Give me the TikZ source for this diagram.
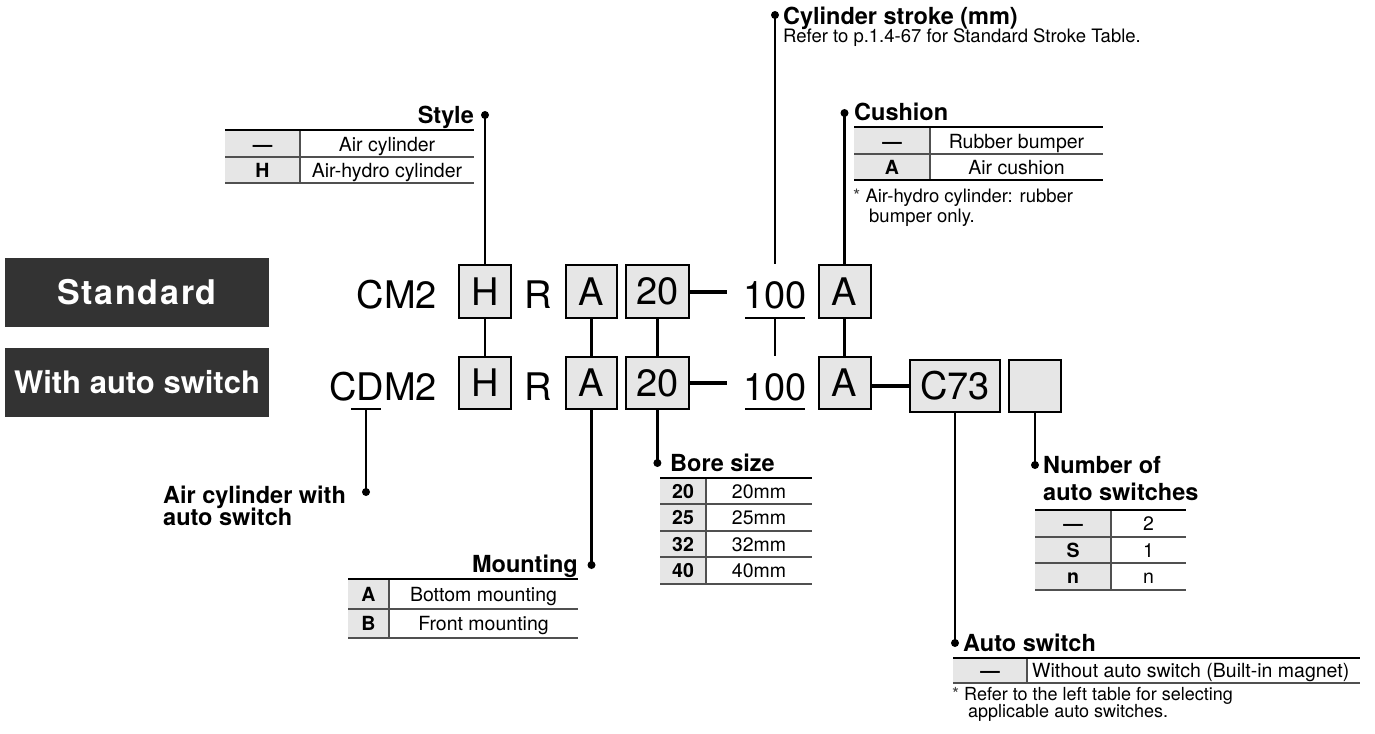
\documentclass[tikz,border=0pt]{standalone}
\usepackage{fontspec}
\setmainfont{TeX Gyre Heros}
\definecolor{boxgray}{HTML}{E6E6E6}
\definecolor{labeldark}{HTML}{333333}
\definecolor{rulegray}{HTML}{505050}
\newcommand{\fsz}[1]{\fontsize{#1}{#1}\selectfont}
\newcommand{\smallast}{{\color{black!75}*}}
\begin{document}
\begin{tikzpicture}[x=1pt,y=-1pt,
  codebox/.style={draw, line width=2pt, fill=boxgray, inner sep=0pt, font=\fsz{38}},
  codetext/.style={inner sep=0pt, font=\fsz{38}},
  leader/.style={line width=2.3pt},
  joinbar/.style={line width=4pt},
  leaddot/.style={fill=black},
  headtxt/.style={inner sep=0pt, font=\bfseries\fsz{23.5}},
  cell/.style={inner sep=0pt, anchor=base, font=\fsz{19.5}},
  cellb/.style={inner sep=0pt, anchor=base, font=\bfseries\fsz{19.5}},
  notetxt/.style={inner sep=0pt, anchor=base west, font=\fsz{18.5}},
  toprule/.style={line width=2.4pt},
  midrule/.style={line width=1.2pt, rulegray},
  botrule/.style={line width=1.6pt, rulegray},
  labelbox/.style={fill=labeldark, minimum width=264pt, minimum height=69pt, inner sep=0pt, text=white}
]
\useasboundingbox (0,0) rectangle (1375,733);

% ---------- dark labels ----------
\node[labelbox, font=\bfseries\fsz{34}\addfontfeatures{LetterSpace=5}] (std) at (137,292.5) {Standard};
\node[labelbox, font=\bfseries\fsz{31}] (withauto) at (137,382.5) {With auto switch};

% ---------- row 1 ----------
\node[codetext, anchor=base east] (cm2) at (437,308) {CM2};
\node[codebox, minimum width=52pt, minimum height=53pt] (h1) at (485,291.5) {H};
\node[codetext, anchor=base] (r1) at (538,308) {R};
\node[codebox, minimum width=51.5pt, minimum height=53pt] (a1) at (591.5,291.5) {A};
\node[codebox, minimum width=63pt, minimum height=53pt] (b1) at (657.4,291.5) {20};
\node[codetext, anchor=base] (s1) at (775,308) {100};
\node[codebox, minimum width=52pt, minimum height=53pt] (c1) at (844.5,291.5) {A};

% ---------- row 2 ----------
\node[codetext, anchor=base east] (cdm2) at (437,400) {CDM2};
\node[codebox, minimum width=52pt, minimum height=52pt] (h2) at (485,383) {H};
\node[codetext, anchor=base] (r2) at (538,400) {R};
\node[codebox, minimum width=51.5pt, minimum height=52pt] (a2) at (591.5,383) {A};
\node[codebox, minimum width=63pt, minimum height=52pt] (b2) at (657.4,383) {20};
\node[codetext, anchor=base] (s2) at (775,400) {100};
\node[codebox, minimum width=52pt, minimum height=52pt] (c2) at (844.5,383) {A};
\node[codebox, minimum width=90pt, minimum height=52pt] (sw) at (955,386) {C73};
\node[codebox, minimum width=52pt, minimum height=52pt] (nsw) at (1035,386) {};

% ---------- underlines and bars ----------
\coordinate (u1l) at (745,318); \coordinate (u1r) at (805,318); \coordinate (u1m) at (775,318);
\coordinate (u2l) at (745,409); \coordinate (u2r) at (805,409);
\coordinate (dl) at (351,409); \coordinate (dr) at (381,409); \coordinate (dm) at (366,409);
\draw[line width=2pt] (u1l) -- (u1r);
\draw[line width=2pt] (u2l) -- (u2r);
\draw[line width=2pt] (dl) -- (dr);
\coordinate (bar1end) at (727,291.5);
\coordinate (bar2end) at (727,383);
\draw[joinbar] (b1.east) -- (bar1end);
\draw[joinbar] (b2.east) -- (bar2end);
\draw[joinbar] (c2.east |- sw.west) -- (sw.west);

% ---------- leader dots ----------
\coordinate (styledot) at (485,115);
\coordinate (strokedot) at (775,15);
\coordinate (cushdot) at (844.5,113);
\coordinate (boredot) at (657.4,463);
\coordinate (mountdot) at (591.5,565);
\coordinate (acwdot) at (366,492);
\coordinate (numdot) at (1035,465);
\coordinate (swdot) at (955,643);
\foreach \p in {styledot,strokedot,cushdot,boredot,mountdot,acwdot,numdot,swdot}
  \fill[leaddot] (\p) circle (4pt);

% ---------- leaders ----------
\draw[leader] (styledot) -- (styledot |- h1.north);
\draw[leader] (strokedot) -- (strokedot |- c1.north);
\draw[leader] (cushdot) -- (cushdot |- c1.north);
\draw[leader] (h1.south) -- (h2.north);
\draw[leader] (a1.south) -- (a2.north);
\draw[leader] (b1.south) -- (b2.north);
\draw[leader] (c1.south) -- (c2.north);
\draw[leader] (u1m) -- (u1m |- h2.north);
\draw[leader] (a2.south) -- (mountdot);
\draw[leader] (b2.south) -- (boredot);
\draw[leader] (dm) -- (acwdot);
\draw[leader] (sw.south) -- (swdot);
\draw[leader] (nsw.south) -- (numdot);

% ---------- headings ----------
\node[headtxt, anchor=base east] (styleT) at (474,124) {Style};
\node[headtxt, anchor=base west] (strokeT) at (783,25) {Cylinder stroke (mm)};
\node[notetxt] (strokeN) at (783,43) {Refer to p.1.4-67 for Standard Stroke Table.};
\node[headtxt, anchor=base west] (cushT) at (854,121) {Cushion};
\node[headtxt, anchor=base west] (boreT) at (670,471) {Bore size};
\node[headtxt, anchor=base east] (mountT) at (578,572) {Mounting};
\node[headtxt, anchor=base west] (acwT1) at (163,503) {Air cylinder with};
\node[headtxt, anchor=base west] (acwT2) at (163,525) {auto switch};
\node[headtxt, anchor=base west] (numT1) at (1043,473) {Number of};
\node[headtxt, anchor=base west] (numT2) at (1043,500) {auto switches};
\node[headtxt, anchor=base west] (swT) at (963,651) {Auto switch};

% ---------- Style table ----------
\fill[boxgray] (225,130) rectangle (300,183);
\draw[midrule] (225,157) -- (474,157);
\draw[midrule] (300,130) -- (300,183);
\draw[botrule] (225,183) -- (474,183);
\draw[toprule] (225,130) -- (474,130);
\node[cellb] (st1a) at (262.5,151) {—};
\node[cell]  (st1b) at (387,151) {Air cylinder};
\node[cellb] (st2a) at (262.5,177) {H};
\node[cell]  (st2b) at (387,177) {Air-hydro cylinder};

% ---------- Cushion table ----------
\fill[boxgray] (854,127) rectangle (930,180);
\draw[midrule] (854,154) -- (1103,154);
\draw[midrule] (930,127) -- (930,180);
\draw[line width=1.4pt] (854,180) -- (1103,180);
\draw[toprule] (854,127) -- (1103,127);
\node[cellb] (cu1a) at (892,148) {—};
\node[cell]  (cu1b) at (1016.5,148) {Rubber bumper};
\node[cellb] (cu2a) at (892,174) {A};
\node[cell]  (cu2b) at (1016.5,174) {Air cushion};
\node[notetxt] (cuN1) at (853,202) {\smallast\ Air-hydro cylinder: rubber};
\node[notetxt] (cuN2) at (869,222) {bumper only.};

% ---------- Bore size table ----------
\fill[boxgray] (660,478) rectangle (706,584);
\draw[midrule] (660,504) -- (812,504);
\draw[midrule] (660,531) -- (812,531);
\draw[midrule] (660,557) -- (812,557);
\draw[midrule] (706,478) -- (706,584);
\draw[botrule] (660,584) -- (812,584);
\draw[toprule] (660,478) -- (812,478);
\node[cellb] (bo1a) at (683,498) {20};  \node[cell] (bo1b) at (759,498) {20mm};
\node[cellb] (bo2a) at (683,524.5) {25};\node[cell] (bo2b) at (759,524.5) {25mm};
\node[cellb] (bo3a) at (683,551) {32};  \node[cell] (bo3b) at (759,551) {32mm};
\node[cellb] (bo4a) at (683,577.5) {40};\node[cell] (bo4b) at (759,577.5) {40mm};

% ---------- Mounting table ----------
\fill[boxgray] (348,579) rectangle (389,638);
\draw[midrule] (348,609) -- (578,609);
\draw[midrule] (389,579) -- (389,638);
\draw[botrule] (348,638) -- (578,638);
\draw[toprule] (348,579) -- (578,579);
\node[cellb] (mo1a) at (368.5,601) {A};
\node[cell]  (mo1b) at (483.5,601) {Bottom mounting};
\node[cellb] (mo2a) at (368.5,630.5) {B};
\node[cell]  (mo2b) at (483.5,630.5) {Front mounting};

% ---------- Number of auto switches table ----------
\fill[boxgray] (1035,510) rectangle (1111,590);
\draw[midrule] (1035,537) -- (1186,537);
\draw[midrule] (1035,563) -- (1186,563);
\draw[midrule] (1111,510) -- (1111,590);
\draw[botrule] (1035,590) -- (1186,590);
\draw[toprule] (1035,510) -- (1186,510);
\node[cellb] (nu1a) at (1073,530.5) {—}; \node[cell] (nu1b) at (1148.5,530.5) {2};
\node[cellb] (nu2a) at (1073,557) {S};    \node[cell] (nu2b) at (1148.5,557) {1};
\node[cellb] (nu3a) at (1073,583.5) {n};  \node[cell] (nu3b) at (1148.5,583.5) {n};

% ---------- Auto switch table ----------
\fill[boxgray] (953,658) rectangle (1027,683);
\draw[midrule] (1027,658) -- (1027,683);
\draw[botrule] (953,683) -- (1360,683);
\draw[toprule] (953,658) -- (1360,658);
\node[cellb] (as1a) at (990,677.5) {—};
\node[cell, anchor=base west] (as1b) at (1032,677.5) {Without auto switch (Built-in magnet)};
\node[notetxt, font=\fsz{18}] (asN1) at (952,700) {\smallast\ Refer to the left table for selecting};
\node[notetxt, font=\fsz{18}] (asN2) at (968,717) {applicable auto switches.};
\end{tikzpicture}
\end{document}
